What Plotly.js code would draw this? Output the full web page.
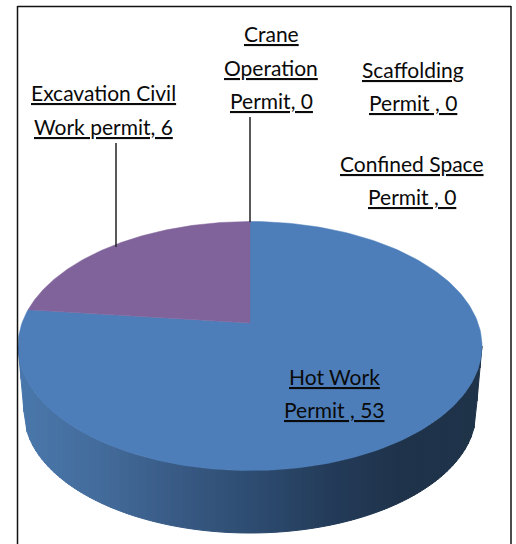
<!DOCTYPE html>
<html><head><meta charset="utf-8">
<script src="https://cdn.plot.ly/plotly-3.0.1.min.js"></script>
<style>html,body{margin:0;padding:0;background:#fff}#c{width:516px;height:544px}</style>
</head><body><div id="c"></div>
<script>
// Data
const categories = ["Hot Work Permit","Excavation Civil Work permit","Crane Operation Permit","Scaffolding Permit","Confined Space Permit"];
const labelledValues = [53, 6, 0, 0, 0];
// Slice shares as actually drawn in the picture (percent)
const drawnShares = [79.7, 20.3];
const sliceColors = ["#4D7EBA", "#80639B"];
// Label lines
const labelLines = ["Crane","Operation","Permit, 0","Scaffolding","Permit , 0","Confined Space","Permit , 0","Excavation Civil","Work permit, 6","Hot Work","Permit , 53"];
const labelX = [271,271,271,413,413,412,412,103,103,334,334];
const labelY = [33,67,100,69,102,163,196,92,126,376,409];
// Side shading stops: x position, colour
const shadeX = [18,100,180,250,330,400,482];
const shadeRGB = [[74,120,172],[68,108,155],[56,90,132],[46,77,114],[36,60,90],[31,51,75],[31,51,73]];

// Projection geometry
const top3d = {cx:250, cy:346, rx:232, ry:124.5, apexY:323};
const low3d = {cx:250, cy:412, rx:226, ry:121};

function shade(x){
  for(let i=0;i<shadeX.length-1;i++){
    if(x<=shadeX[i+1]){
      const f=Math.max(0,(x-shadeX[i])/(shadeX[i+1]-shadeX[i]));
      return 'rgb('+shadeRGB[i].map((c,k)=>Math.round(c+(shadeRGB[i+1][k]-c)*f)).join(',')+')';
    }
  }
  return 'rgb('+shadeRGB[shadeRGB.length-1].join(',')+')';
}
const traces=[];
// side wall
function topLow(x){const d=(x-top3d.cx)/top3d.rx;return top3d.cy+top3d.ry*Math.sqrt(Math.max(0,1-d*d));}
function lowLow(x){
  const dx=Math.abs(x-low3d.cx);
  if(dx<=low3d.rx){const d=dx/low3d.rx;return low3d.cy+low3d.ry*Math.sqrt(1-d*d);}
  return low3d.cy-(dx-low3d.rx)/(top3d.rx-low3d.rx)*(low3d.cy-top3d.cy);
}
const step=3;
for(let x=top3d.cx-top3d.rx;x<top3d.cx+top3d.rx;x+=step){
  const x2=Math.min(x+step,top3d.cx+top3d.rx);
  traces.push({type:'scatter',mode:'lines',x:[x,x2,x2,x,x],y:[topLow(x),topLow(x2),lowLow(x2),lowLow(x),topLow(x)],
    fill:'toself',fillcolor:shade(x+step/2),line:{color:shade(x+step/2),width:1},hoverinfo:'skip',showlegend:false});
}
// top face slices from shares, counter-clockwise from 12 o'clock for the second slice
const total=drawnShares.reduce((a,b)=>a+b,0);
const secondAngle=drawnShares[1]/total*2*Math.PI;
function rim(t){return [top3d.cx-top3d.rx*Math.sin(t), top3d.cy-top3d.ry*Math.cos(t)];}
function slice(t0,t1,color,name){
  const xs=[top3d.cx],ys=[top3d.apexY];
  const n=240;
  for(let i=0;i<=n;i++){const p=rim(t0+(t1-t0)*i/n);xs.push(p[0]);ys.push(p[1]);}
  xs.push(top3d.cx);ys.push(top3d.apexY);
  traces.push({type:'scatter',mode:'lines',x:xs,y:ys,fill:'toself',fillcolor:color,line:{color:color,width:0.5},name:name,hoverinfo:'name',showlegend:false});
}
slice(secondAngle,2*Math.PI,sliceColors[0],categories[0]);
slice(0,secondAngle,sliceColors[1],categories[1]);

const font={family:'Lato, "Open Sans", sans-serif',size:21,color:'#0a0a0a'};
const annotations=labelLines.map((t,i)=>({x:labelX[i],y:labelY[i],xref:'x',yref:'y',text:'<u>'+t+'</u>',showarrow:false,font:font,xanchor:'center',yanchor:'middle'}));
const ln={color:'#222',width:1.5};
const shapes=[
  {type:'line',xref:'x',yref:'y',x0:116,x1:116,y0:143,y1:247,line:ln},
  {type:'line',xref:'x',yref:'y',x0:250,x1:250,y0:117,y1:222,line:ln},
  {type:'line',xref:'x',yref:'y',x0:17.5,x1:17.5,y0:6,y1:544,line:{color:'#111',width:1.5}},
  {type:'line',xref:'x',yref:'y',x0:511,x1:511,y0:6,y1:544,line:{color:'#111',width:1.5}},
  {type:'line',xref:'x',yref:'y',x0:17.5,x1:511,y0:6.5,y1:6.5,line:{color:'#111',width:1.5}}
];
Plotly.newPlot('c',traces,{
  width:516,height:544,margin:{l:0,r:0,t:0,b:0},paper_bgcolor:'#fff',plot_bgcolor:'#fff',showlegend:false,
  xaxis:{range:[0,516],visible:false,fixedrange:true},
  yaxis:{range:[544,0],visible:false,fixedrange:true},
  annotations:annotations,shapes:shapes
},{displayModeBar:false,staticPlot:true});
</script></body></html>
